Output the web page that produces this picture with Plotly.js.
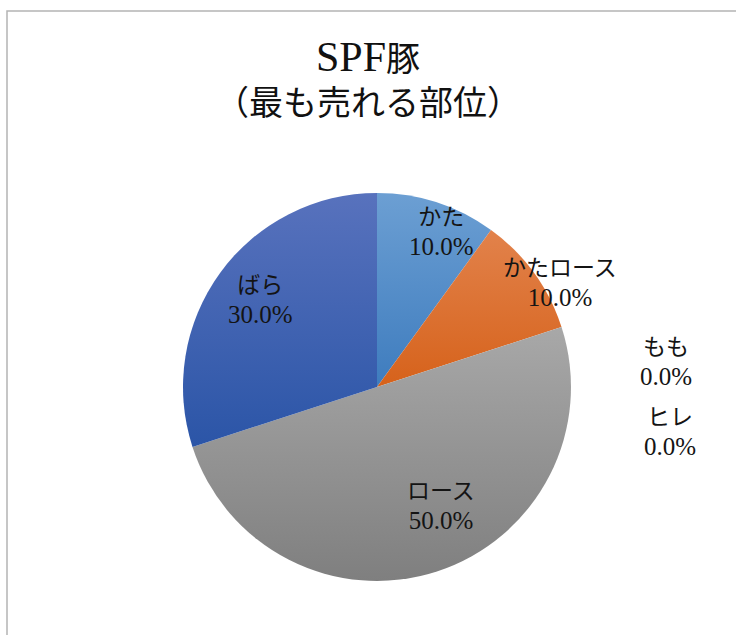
<!DOCTYPE html>
<html>
<head>
<meta charset="utf-8">
<script src="https://cdn.plot.ly/plotly-3.0.1.min.js"></script>
<style>
  html, body { margin: 0; padding: 0; background: #ffffff; }
  #chart { width: 736px; height: 635px; }
</style>
</head>
<body>
<div id="chart"></div>
<script>
// ---- data ----
const titleLatin = 'SPF';
const titleKanji = '豚';
const titleLine2 = '（最も売れる部位）';
const labels = ['かた', 'かたロース', 'ロース', 'もも', 'ヒレ', 'ばら'];
const values = [10, 10, 50, 0, 0, 30];

// ---- styles ----
const colorsSolid  = ['#5890cb', '#dc6f2d', '#959595', '#ffc000', '#4472c4', '#3f62b2'];
const colorsTop    = ['#6c9fd3', '#e2824b', '#a8a8a8', '#ffc000', '#4472c4', '#5872bd'];
const colorsBottom = ['#3e7cbe', '#d6621b', '#7f7f7f', '#ffc000', '#4472c4', '#2b55a7'];
// label block centres in pixels (x, y)
const labelPosX = [441, 560, 441, 666, 670, 260];
const labelPosY = [233, 283, 506, 362, 432, 300];

const W = 736, H = 635;
const cx = 377, cy = 387, R = 194;
const fontFam = "'Liberation Serif', 'Noto Sans CJK JP', serif";

const total = values.reduce((a, b) => a + b, 0);

const data = [{
  type: 'pie',
  labels: labels,
  values: values,
  sort: false,
  direction: 'clockwise',
  rotation: 0,
  textinfo: 'none',
  hoverinfo: 'none',
  showlegend: false,
  marker: { colors: colorsSolid, line: { width: 0 } },
  domain: {
    x: [(cx - R) / W, (cx + R) / W],
    y: [(H - cy - R) / H, (H - cy + R) / H]
  }
}];

const annotations = labels.map((lab, i) => ({
  text: lab + '<br><span style="font-size:25px">' + (values[i] / total * 100).toFixed(1) + '%</span>',
  x: labelPosX[i] / W,
  y: 1 - labelPosY[i] / H,
  xref: 'paper', yref: 'paper',
  xanchor: 'center', yanchor: 'middle',
  showarrow: false,
  align: 'center',
  font: { family: fontFam, size: 23, color: '#141414' }
}));

const layout = {
  width: W, height: H,
  margin: { l: 0, r: 0, t: 0, b: 0 },
  paper_bgcolor: '#ffffff',
  title: {
    text: '<span style="font-size:42px">' + titleLatin + '</span>' + titleKanji + '<br>' + titleLine2,
    x: 0.5, xanchor: 'center',
    xref: 'container', yref: 'container',
    y: 1 - 71 / H, yanchor: 'top',
    font: { family: fontFam, size: 34, color: '#111111' }
  },
  annotations: annotations,
  shapes: [{
    type: 'rect', xref: 'paper', yref: 'paper',
    x0: 7 / W, x1: 1.05, y0: -0.05, y1: 1 - 11 / H,
    line: { color: '#b4b4b4', width: 1.5 },
    fillcolor: 'rgba(0,0,0,0)', layer: 'below'
  }]
};

Plotly.newPlot('chart', data, layout, { staticPlot: true, displayModeBar: false }).then(gd => {
  try {
    const ns = 'http://www.w3.org/2000/svg';
    const svg = gd.querySelector('svg.main-svg');
    const defs = document.createElementNS(ns, 'defs');
    colorsTop.forEach((c, i) => {
      const lg = document.createElementNS(ns, 'linearGradient');
      lg.setAttribute('id', 'slicegrad' + i);
      lg.setAttribute('x1', '0'); lg.setAttribute('y1', '0');
      lg.setAttribute('x2', '0'); lg.setAttribute('y2', '1');
      const s1 = document.createElementNS(ns, 'stop');
      s1.setAttribute('offset', '0'); s1.setAttribute('stop-color', c);
      const s2 = document.createElementNS(ns, 'stop');
      s2.setAttribute('offset', '1'); s2.setAttribute('stop-color', colorsBottom[i]);
      lg.appendChild(s1); lg.appendChild(s2);
      defs.appendChild(lg);
    });
    svg.insertBefore(defs, svg.firstChild);
    gd.querySelectorAll('g.slice').forEach((g, k) => {
      const pt = g.__data__;
      const idx = (pt && typeof pt.i === 'number') ? pt.i : k;
      const path = g.querySelector('path.surface');
      if (path) path.style.fill = 'url(#slicegrad' + idx + ')';
    });
  } catch (e) { console.log(e); }
});
</script>
</body>
</html>
